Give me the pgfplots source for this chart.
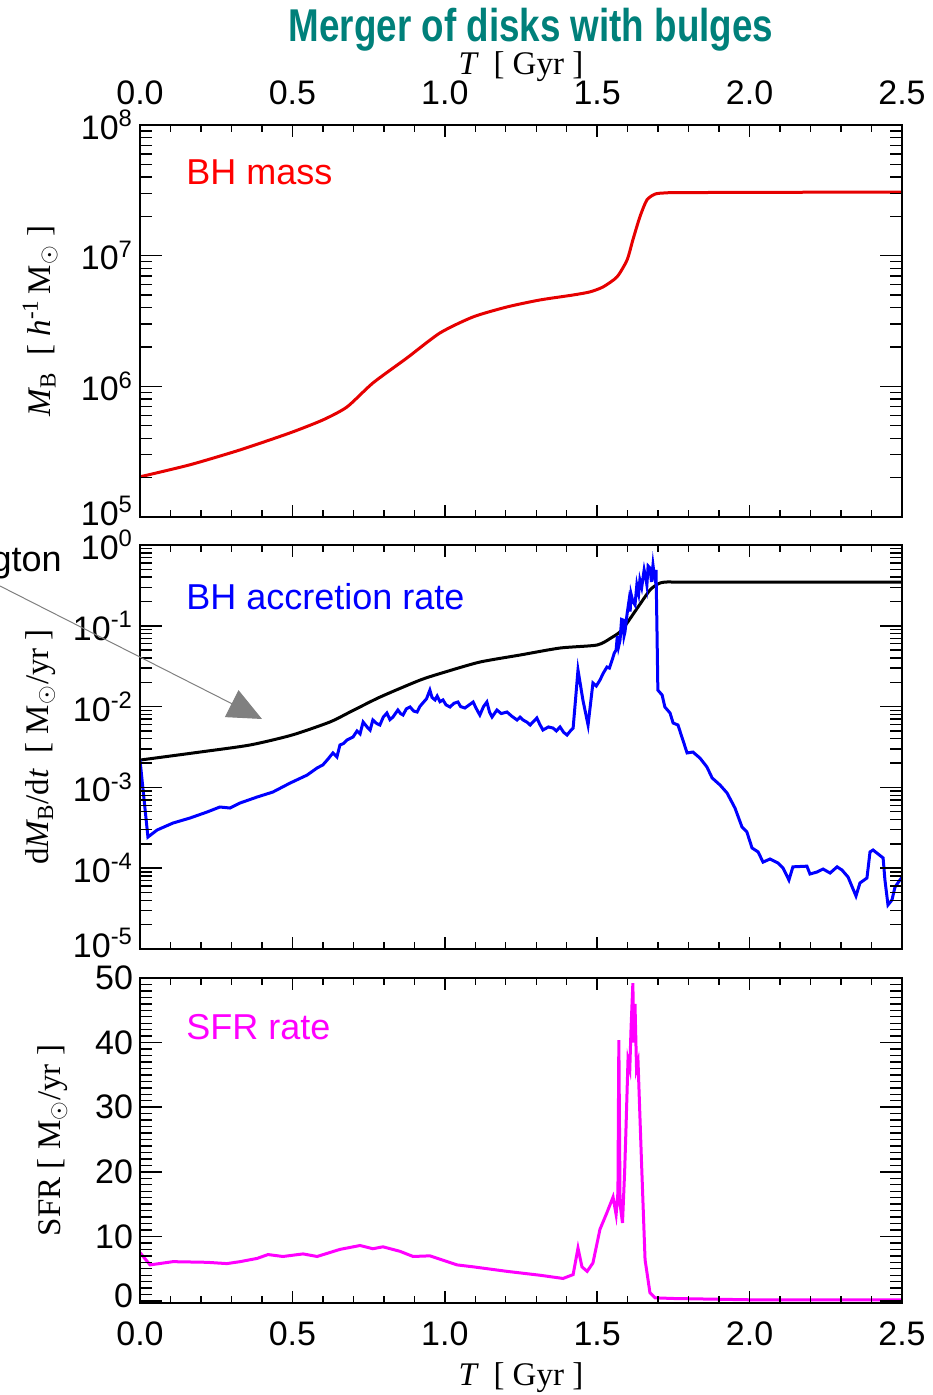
\documentclass[border=0pt]{standalone}
\usepackage{fontspec}
\setmainfont{Liberation Sans}
\newfontfamily\serif{Liberation Serif}
\usepackage{graphicx}
\usepackage{pgfplots}
\pgfplotsset{compat=1.18}
\usetikzlibrary{arrows.meta}
\definecolor{teal2}{RGB}{0,128,122}
\definecolor{mag}{RGB}{255,0,255}
\definecolor{bl}{RGB}{0,0,255}
\definecolor{rd}{RGB}{230,0,0}
\pgfplotsset{
 base/.style={scale only axis, width=381pt, xmin=0, xmax=2.5, axis on top,
   tick align=inside, xtick pos=both, ytick pos=both,
   axis line style={line width=1pt, black},
   major tick style={line width=0.8pt, black}, minor tick style={line width=0.7pt, black},
   tick label style={font=\fontsize{17}{17}\selectfont},
   /pgf/number format/assume math mode=true,
   label style={font=\fontsize{16.5}{18}\selectfont\serif}},
 xpart/.style={base, xtick={0,0.5,1,1.5,2,2.5}, minor x tick num=4,
   xticklabels={0.0,0.5,1.0,1.5,2.0,2.5}, major tick length=6pt, minor tick length=3.5pt, ytick=\empty},
 ypart/.style={base, xtick=\empty, major tick length=11pt, minor tick length=6pt, axis line style={draw=none}},
}
\begin{document}
\begin{tikzpicture}
\path[use as bounding box] (0,0) rectangle (466pt,-697.5pt);
% ---------- Panel 1 ----------
\begin{axis}[xpart, at={(70pt,-62.5pt)}, anchor=north west, height=196pt,
  ymode=log, ymin=1e5, ymax=1e8, xticklabel pos=right,
  xticklabel style={inner sep=1pt, yshift=9pt},
  xlabel={{\itshape T}\ \ [ Gyr ]},
  xlabel style={at={(axis description cs:0.5,1.148)}, anchor=center}]
\addplot[rd, line width=1.5pt, smooth, tension=0.4] coordinates {
(0,2.03e5)(0.164,2.51e5)(0.328,3.26e5)(0.492,4.40e5)(0.600,5.53e5)(0.679,6.95e5)
(0.764,1.06e6)(0.876,1.65e6)(0.984,2.56e6)(1.093,3.40e6)(1.204,4.05e6)(1.312,4.58e6)
(1.421,5.00e6)(1.476,5.28e6)(1.519,5.76e6)(1.565,6.88e6)(1.598,9.27e6)(1.617,1.32e7)
(1.640,1.98e7)(1.663,2.67e7)(1.690,2.96e7)(1.722,3.02e7)(1.80,3.04e7)(2.5,3.07e7)};
\end{axis}
\begin{axis}[ypart, at={(70pt,-62.5pt)}, anchor=north west, height=196pt,
  ymode=log, ymin=1e5, ymax=1e8, ytick={1e5,1e6,1e7,1e8},
  yticklabels={\raisebox{6pt}{10\textsuperscript{5}},10\textsuperscript{6},10\textsuperscript{7},\raisebox{-4pt}{10\textsuperscript{8}}},
  ylabel={{\itshape M}\textsubscript{B}\ \ [ {\itshape h}\textsuperscript{-1}\,M\textsubscript{$\odot$} ]},
  ylabel style={at={(axis description cs:-0.131,0.5)}, anchor=center}]
\end{axis}
% ---------- Panel 2 ----------
\begin{axis}[xpart, at={(70pt,-272.5pt)}, anchor=north west, height=202pt,
  ymode=log, ymin=1e-5, ymax=1, xticklabels={}]
\addplot[black, line width=1.5pt, smooth, tension=0.4] coordinates {
(0,2.18e-3)(0.197,2.74e-3)(0.361,3.35e-3)(0.499,4.45e-3)(0.623,6.45e-3)(0.689,8.57e-3)
(0.787,1.31e-2)(0.919,2.13e-2)(1.001,2.68e-2)(1.115,3.56e-2)(1.247,4.35e-2)(1.378,5.31e-2)
(1.499,5.78e-2)(1.545,7.06e-2)(1.581,8.87e-2)(1.634,0.171)(1.673,0.277)(1.699,0.329)
(1.722,0.348)(1.80,0.348)(2.5,0.348)};
\addplot[bl, line width=1.5pt] coordinates {
(0,2.18e-3)(0.026,2.43e-4)(0.056,2.97e-4)(0.108,3.62e-4)(0.164,4.18e-4)(0.220,4.96e-4)
(0.262,5.72e-4)(0.295,5.56e-4)(0.328,6.41e-4)(0.384,7.60e-4)(0.436,8.77e-4)(0.492,1.13e-3)
(0.548,1.42e-3)(0.581,1.74e-3)(0.600,1.9e-3)(0.614,2.18e-3)(0.633,2.67e-3)(0.646,2.38e-3)(0.656,3.35e-3)
(0.668,3.5e-3)(0.679,3.86e-3)(0.699,4.21e-3)(0.712,5.0e-3)(0.722,4.6e-3)(0.732,6.45e-3)(0.745,5.6e-3)(0.755,5.13e-3)(0.764,6.83e-3)(0.776,6.2e-3)(0.787,5.92e-3)
(0.798,7.4e-3)(0.810,8.33e-3)(0.820,6.9e-3)(0.830,7.44e-3)(0.846,9.08e-3)(0.855,8.2e-3)(0.863,7.87e-3)(0.874,9.4e-3)(0.886,9.89e-3)(0.898,8.8e-3)(0.909,8.57e-3)
(0.918,1.0e-2)(0.928,1.11e-2)(0.940,1.25e-2)(0.951,1.60e-2)(0.958,1.30e-2)(0.968,1.21e-2)(0.975,1.35e-2)(0.984,1.15e-2)(0.994,1.21e-2)(1.004,1.05e-2)(1.017,9.89e-3)(1.030,1.10e-2)(1.043,1.14e-2)
(1.052,1.00e-2)(1.066,9.61e-3)(1.080,1.05e-2)(1.093,1.14e-2)(1.103,9.5e-3)(1.115,7.87e-3)(1.127,1.0e-2)(1.138,1.14e-2)(1.147,8.5e-3)(1.155,7.44e-3)(1.171,9.08e-3)
(1.185,8.2e-3)(1.204,8.57e-3)(1.220,7.6e-3)(1.237,6.83e-3)(1.247,7.4e-3)(1.257,6.83e-3)(1.270,6.4e-3)(1.280,5.92e-3)(1.302,7.23e-3)(1.312,6.0e-3)(1.322,5.13e-3)
(1.340,5.6e-3)(1.355,5.43e-3)(1.366,5.0e-3)(1.378,5.60e-3)(1.390,4.8e-3)(1.401,4.45e-3)(1.412,5.0e-3)(1.421,5.43e-3)(1.437,2.84e-2)(1.453,1.21e-2)
(1.470,5.92e-3)(1.486,1.96e-2)(1.497,1.8e-2)(1.509,2.13e-2)(1.520,2.6e-2)(1.532,3.09e-2)(1.540,3.0e-2)(1.549,3.77e-2)(1.556,4.6e-2)(1.562,5.01e-2)
(1.566,7.5e-2)(1.570,5.5e-2)(1.575,6.67e-2)(1.580,0.12)(1.585,0.118)(1.588,0.075)(1.591,8.38e-2)(1.598,0.14)(1.604,0.20)(1.608,0.15)(1.611,0.248)
(1.617,0.20)(1.624,0.181)(1.630,0.32)(1.636,0.25)(1.640,0.369)(1.646,0.30)(1.654,0.491)(1.660,0.38)(1.663,0.320)(1.667,0.55)(1.673,0.519)
(1.678,0.35)(1.683,0.565)(1.688,0.40)(1.690,0.369)(1.693,0.491)
(1.696,9.39e-2)(1.699,1.60e-2)(1.713,1.39e-2)(1.722,9.89e-3)(1.739,8.33e-3)(1.749,6.27e-3)
(1.765,5.92e-3)(1.781,3.86e-3)(1.795,2.67e-3)(1.814,2.74e-3)(1.837,2.31e-3)(1.860,1.79e-3)
(1.877,1.31e-3)(1.903,1.07e-3)(1.926,8.53e-4)(1.952,5.56e-4)(1.975,3.24e-4)(1.991,2.81e-4)
(2.008,1.78e-4)(2.028,1.59e-4)(2.044,1.19e-4)(2.067,1.30e-4)(2.093,1.16e-4)(2.110,1.00e-4)
(2.129,7.14e-5)(2.142,1.04e-4)(2.188,1.06e-4)(2.198,8.48e-5)(2.221,8.97e-5)(2.241,9.77e-5)
(2.264,8.72e-5)(2.287,1.04e-4)(2.303,9.50e-5)(2.323,7.78e-5)(2.349,4.53e-5)(2.362,6.56e-5)
(2.385,7.57e-5)(2.395,1.59e-4)(2.405,1.68e-4)(2.438,1.34e-4)(2.444,7.14e-5)(2.454,3.51e-5)
(2.467,4.04e-5)(2.477,5.85e-5)(2.5,7.78e-5)};
\end{axis}
\begin{axis}[ypart, at={(70pt,-272.5pt)}, anchor=north west, height=202pt,
  ymode=log, ymin=1e-5, ymax=1, ytick={1e-5,1e-4,1e-3,1e-2,1e-1,1},
  yticklabels={\raisebox{6pt}{10\textsuperscript{-5}},10\textsuperscript{-4},10\textsuperscript{-3},10\textsuperscript{-2},10\textsuperscript{-1},10\textsuperscript{0}},
  ylabel={d{\itshape M}\textsubscript{B}/d{\itshape t}\ \ [ M\textsubscript{$\odot$}/yr ]},
  ylabel style={at={(axis description cs:-0.131,0.5)}, anchor=center}]
\end{axis}
% ---------- Panel 3 ----------
\begin{axis}[xpart, at={(70pt,-489pt)}, anchor=north west, height=162.5pt,
  ymin=-0.3, ymax=50, xticklabel style={yshift=-6pt},
  xlabel={{\itshape T}\ \ [ Gyr ]},
  xlabel style={at={(axis description cs:0.5,-0.228)}, anchor=center}]
\addplot[mag, line width=1.5pt] coordinates {
(0,7.5)(0.033,5.6)(0.108,6.1)(0.220,6.0)(0.285,5.8)(0.328,6.1)(0.384,6.6)(0.420,7.2)
(0.469,6.9)(0.535,7.3)(0.581,6.9)(0.656,8.0)(0.722,8.6)(0.764,8.1)(0.797,8.4)(0.853,7.7)
(0.896,6.9)(0.951,7.0)(1.040,5.6)(1.093,5.3)(1.204,4.6)(1.312,4.0)(1.388,3.5)(1.421,4.1)
(1.437,8.2)(1.450,5.3)(1.467,4.6)(1.486,5.9)(1.509,11.1)(1.532,13.7)(1.552,16.1)(1.562,13.4)
(1.568,16.8)(1.571,40.4)(1.575,15.0)(1.583,12.1)(1.590,20.0)(1.594,26.0)(1.601,37.3)
(1.607,36.0)(1.611,42.2)(1.617,49.2)(1.620,40.0)(1.624,46.0)(1.629,36.0)(1.634,37.0)
(1.645,22.0)(1.657,6.4)(1.673,1.3)(1.690,0.5)(1.749,0.4)(2.0,0.2)(2.5,0.2)};
\end{axis}
\begin{axis}[ypart, at={(70pt,-489pt)}, anchor=north west, height=162.5pt,
  ymin=-0.3, ymax=50, ytick={0,10,20,30,40,50}, minor y tick num=9,
  yticklabels={\raisebox{5pt}{0},10,20,30,40,\raisebox{-3pt}{50}},
  ylabel={SFR [ M\textsubscript{$\odot$}/yr ]},
  ylabel style={at={(axis description cs:-0.115,0.5)}, anchor=center}]
\end{axis}
% ---------- annotations ----------
\node[text=teal2, font=\fontsize{23}{23}\selectfont\bfseries] at (265.5pt,-15pt)
  {\scalebox{0.8}[1]{Merger of disks with bulges}};
\node[text=red, anchor=west, inner sep=0pt, font=\fontsize{18}{18}\selectfont] at (93pt,-86pt) {BH mass};
\node[text=bl, anchor=west, inner sep=0pt, font=\fontsize{18}{18}\selectfont] at (93pt,-298.5pt) {BH accretion rate};
\node[text=mag, anchor=west, inner sep=0pt, font=\fontsize{18}{18}\selectfont] at (93pt,-513.5pt) {SFR rate};
\node[anchor=east, inner sep=0pt, font=\fontsize{18}{18}\selectfont] at (31pt,-281pt) {Eddington};
\draw[gray, line width=0.5pt, -{Triangle[length=17pt,width=15pt]}] (0pt,-293pt) -- (131pt,-359.5pt);
\end{tikzpicture}
\end{document}
